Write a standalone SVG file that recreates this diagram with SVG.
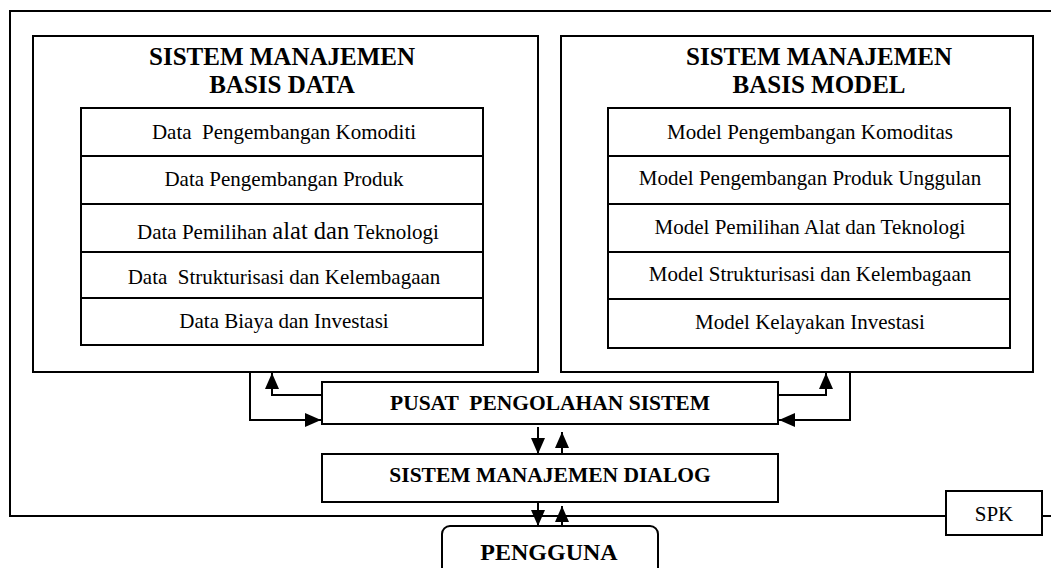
<svg xmlns="http://www.w3.org/2000/svg" width="1051" height="568" viewBox="0 0 1051 568">
<defs>
<style>
.ln{fill:none;stroke:#000;stroke-width:2}
.box{fill:#fff;stroke:#000;stroke-width:2}
.t{font-family:"Liberation Serif","Times New Roman",serif;fill:#000;text-anchor:middle}
.title{font-size:25px;font-weight:bold}
.row{font-size:21px}
.big{font-size:24.5px}
.hb{font-size:21.5px;font-weight:bold}
</style>
<marker id="ah" viewBox="0 0 16 14" refX="16" refY="7" markerWidth="16" markerHeight="14" orient="auto" markerUnits="userSpaceOnUse">
<path d="M0,0 L16,7 L0,14 z" fill="#000"/>
</marker>
</defs>
<rect width="1051" height="568" fill="#fff"/>
<g id="frame">
<path class="ln" d="M1051,11 H10 V516 H946"/>
<path class="ln" d="M1042,516 H1051"/>
</g>
<g id="basis-data">
<rect class="box" x="33" y="36" width="505" height="336"/>
<text class="t title" x="282" y="64.5">SISTEM MANAJEMEN</text>
<text class="t title" x="282" y="92.5">BASIS DATA</text>
<rect class="box" x="81" y="108" width="402" height="237"/>
<path class="ln" d="M81,156 H483 M81,204 H483 M81,252 H483 M81,298 H483"/>
<text class="t row" x="284" y="139" xml:space="preserve">Data  Pengembangan Komoditi</text>
<text class="t row" x="284" y="185.5">Data Pengembangan Produk</text>
<text class="t row" x="288" y="239">Data Pemilihan <tspan class="big">alat dan</tspan> Teknologi</text>
<text class="t row" x="284" y="283.5" xml:space="preserve">Data  Strukturisasi dan Kelembagaan</text>
<text class="t row" x="284" y="327.5">Data Biaya dan Investasi</text>
</g>
<g id="basis-model">
<rect class="box" x="561" y="36" width="472" height="336"/>
<text class="t title" x="819" y="64.5">SISTEM MANAJEMEN</text>
<text class="t title" x="819" y="92.5">BASIS MODEL</text>
<rect class="box" x="608" y="108" width="402" height="240"/>
<path class="ln" d="M608,156 H1010 M608,204 H1010 M608,252 H1010 M608,299 H1010"/>
<text class="t row" x="810" y="138.5">Model Pengembangan Komoditas</text>
<text class="t row" x="810" y="185">Model Pengembangan Produk Unggulan</text>
<text class="t row" x="810" y="233.5">Model Pemilihan Alat dan Teknologi</text>
<text class="t row" x="810" y="281">Model Strukturisasi dan Kelembagaan</text>
<text class="t row" x="810" y="329">Model Kelayakan Investasi</text>
</g>
<g id="pusat">
<rect class="box" x="322" y="382" width="456" height="42"/>
<text class="t hb" x="550" y="410" xml:space="preserve">PUSAT  PENGOLAHAN SISTEM</text>
</g>
<g id="dialog">
<rect class="box" x="322" y="454" width="456" height="48"/>
<text class="t hb" x="550" y="482">SISTEM MANAJEMEN DIALOG</text>
</g>
<g id="pengguna">
<rect class="box" x="442" y="526" width="216" height="60" rx="8"/>
<text class="t" style="font-size:24px;font-weight:bold" x="549" y="560">PENGGUNA</text>
</g>
<g id="spk">
<rect class="box" x="946" y="491" width="96" height="44"/>
<text class="t row" x="994" y="521">SPK</text>
</g>
<g id="connectors">
<path class="ln" d="M250,372 V420 H321" marker-end="url(#ah)"/>
<path class="ln" d="M321,395 H272 V373" marker-end="url(#ah)"/>
<path class="ln" d="M779,395 H826 V373" marker-end="url(#ah)"/>
<path class="ln" d="M850,372 V420 H779" marker-end="url(#ah)"/>
<path class="ln" d="M538,427 V454" marker-end="url(#ah)"/>
<path class="ln" d="M562,454 V432" marker-end="url(#ah)"/>
<path class="ln" d="M538,502 V526" marker-end="url(#ah)"/>
<path class="ln" d="M562,526 V506" marker-end="url(#ah)"/>
</g>
</svg>
